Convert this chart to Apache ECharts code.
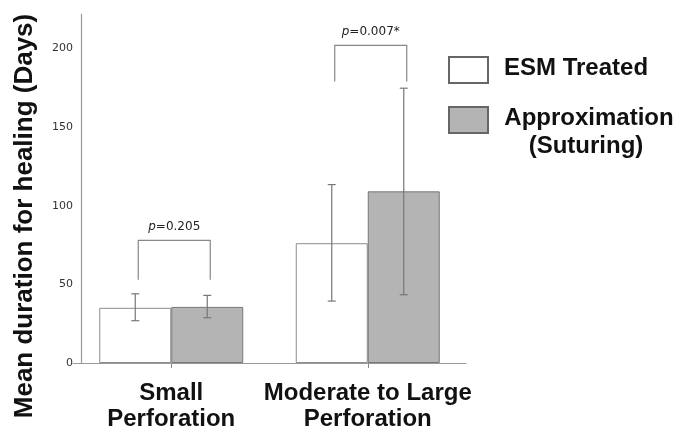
<!DOCTYPE html>
<html><head><meta charset="utf-8">
<script src="https://cdn.jsdelivr.net/npm/echarts@6/dist/echarts.min.js"></script>
<style>html,body{margin:0;padding:0;background:#fff}#c{width:688px;height:429px}</style>
</head><body><div id="c"></div>
<script>
const categories = ['Small\nPerforation', 'Moderate to Large\nPerforation'];
const seriesNames = ['ESM Treated', 'Approximation\n(Suturing)'];
const esmMean = [35.1, 76.2];
const esmLow = [26.9, 39.4];
const esmHigh = [44.0, 113.5];
const sutMean = [35.7, 109.2];
const sutLow = [28.8, 43.4];
const sutHigh = [43.0, 174.8];
const pValues = ['0.205', '0.007*'];
const bracketTop = [78, 202];
const bracketLeg = [53, 179];
const yTicks = [0, 50, 100, 150, 200];

const BAR_W = 72;
const chart = echarts.init(document.getElementById('c'), null, {renderer: 'canvas'});

function errItem(offset) {
  return function (params, api) {
    const i = api.value(0);
    const lo = api.coord([i, api.value(1)]);
    const hi = api.coord([i, api.value(2)]);
    const x = lo[0] + offset;
    const cap = 4;
    const st = {stroke: '#777', lineWidth: 1.2};
    return {type: 'group', children: [
      {type: 'line', shape: {x1: x, y1: lo[1], x2: x, y2: hi[1]}, style: st},
      {type: 'line', shape: {x1: x - cap, y1: lo[1], x2: x + cap, y2: lo[1]}, style: st},
      {type: 'line', shape: {x1: x - cap, y1: hi[1], x2: x + cap, y2: hi[1]}, style: st}
    ]};
  };
}

function bracketItem(params, api) {
  const i = api.value(0);
  const top = api.coord([i, api.value(1)]);
  const leg = api.coord([i, api.value(2)]);
  const xl = top[0] - 33, xr = top[0] + 39;
  const st = {stroke: '#888', lineWidth: 1.2, fill: null};
  return {type: 'group', children: [
    {type: 'polyline', shape: {points: [[xl, leg[1]], [xl, top[1]], [xr, top[1]], [xr, leg[1]]]}, style: st},
    {type: 'text', x: (xl + xr) / 2, y: top[1] - 8, style: {
      text: '{i|p}{n|=' + pValues[i] + '}', align: 'center', verticalAlign: 'bottom',
      rich: {
        i: {fontStyle: 'italic', fontFamily: 'DejaVu Sans', fontSize: 12, fill: '#222'},
        n: {fontFamily: 'DejaVu Sans', fontSize: 12, fill: '#222'}
      }
    }}
  ]};
}

chart.setOption({
  animation: false,
  backgroundColor: '#fff',
  grid: {left: 73, right: 222, top: 14, bottom: 66, containLabel: false, outerBoundsMode: 'none'},
  xAxis: {
    type: 'category', data: categories,
    axisLine: {lineStyle: {color: '#999', width: 1.2}},
    axisTick: {show: true, alignWithLabel: true, length: 5, lineStyle: {color: '#888'}},
    axisLabel: {interval: 0, color: '#111', fontFamily: 'Liberation Sans', fontWeight: 'bold', fontSize: 24, lineHeight: 26, margin: 17}
  },
  yAxis: {
    type: 'value', min: 0, max: 222, interval: 50, offset: -8,
    axisLine: {show: true, lineStyle: {color: '#999', width: 1.2}},
    axisTick: {show: false},
    splitLine: {show: false},
    axisLabel: {color: '#333', fontFamily: 'DejaVu Sans', fontSize: 11, margin: 8,
      formatter: v => yTicks.indexOf(v) >= 0 ? String(v) : ''}
  },
  series: [
    {name: seriesNames[0], type: 'bar', data: esmMean, barWidth: BAR_W, barGap: '0%',
     itemStyle: {color: '#fff', borderColor: '#8c8c8c', borderWidth: 1}},
    {name: seriesNames[1], type: 'bar', data: sutMean, barWidth: BAR_W, barGap: '0%',
     itemStyle: {color: '#b4b4b4', borderColor: '#777', borderWidth: 1}},
    {type: 'custom', renderItem: errItem(-BAR_W / 2), z: 5,
     data: esmLow.map((v, i) => [i, v, esmHigh[i]])},
    {type: 'custom', renderItem: errItem(BAR_W / 2), z: 5,
     data: sutLow.map((v, i) => [i, v, sutHigh[i]])},
    {type: 'custom', renderItem: bracketItem, z: 5,
     data: bracketTop.map((v, i) => [i, v, bracketLeg[i]])}
  ],
  graphic: [
    {type: 'text', x: 25, y: 216, rotation: Math.PI / 2, style: {
      text: 'Mean duration for healing (Days)', align: 'center', verticalAlign: 'middle',
      fontFamily: 'Liberation Sans', fontWeight: 'bold', fontSize: 26, fill: '#111'}},
    {type: 'rect', shape: {x: 449, y: 57, width: 39, height: 26}, style: {fill: '#fff', stroke: '#666', lineWidth: 2}},
    {type: 'rect', shape: {x: 449, y: 107, width: 39, height: 26}, style: {fill: '#b4b4b4', stroke: '#666', lineWidth: 2}},
    {type: 'text', x: 504, y: 68, style: {text: 'ESM Treated', verticalAlign: 'middle',
      fontFamily: 'Liberation Sans', fontWeight: 'bold', fontSize: 24, fill: '#111'}},
    {type: 'text', x: 589, y: 118, style: {text: 'Approximation', align: 'center', verticalAlign: 'middle',
      fontFamily: 'Liberation Sans', fontWeight: 'bold', fontSize: 24, fill: '#111'}},
    {type: 'text', x: 586, y: 146, style: {text: '(Suturing)', align: 'center', verticalAlign: 'middle',
      fontFamily: 'Liberation Sans', fontWeight: 'bold', fontSize: 24, fill: '#111'}}
  ]
});
</script></body></html>
